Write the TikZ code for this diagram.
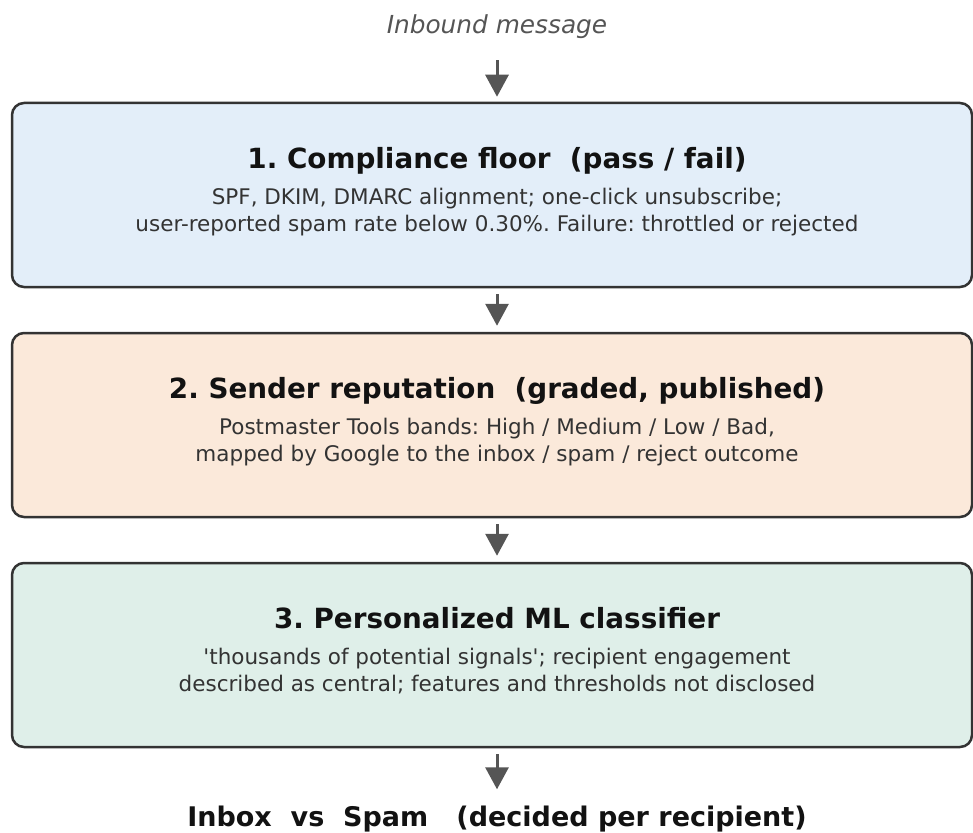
\documentclass[tikz,border=0pt]{standalone}
\usepackage{fontspec}
\setmainfont{DejaVu Sans}
\usetikzlibrary{arrows.meta}
\frenchspacing
\definecolor{edge}{HTML}{333333}
\definecolor{arrowgray}{HTML}{555555}
\definecolor{fillA}{HTML}{E3EEF9}
\definecolor{fillB}{HTML}{FBE9DA}
\definecolor{fillC}{HTML}{DFEFE9}
\definecolor{bodytext}{HTML}{333333}
\tikzset{
  x=1pt, y=-1pt,
  stage/.style={draw=edge, line width=2.5pt, rounded corners=12pt,
    minimum width=960pt, minimum height=184pt, inner sep=0pt},
  heading/.style={anchor=base, inner sep=0pt, text=black!93,
    font=\bfseries\fontsize{27.8}{33}\selectfont},
  % anchor=base of a two-line node sits on its last line
  detail/.style={anchor=base, inner sep=0pt, text=bodytext, align=center,
    font=\fontsize{21.5}{27}\selectfont},
  flow/.style={draw=arrowgray, line width=3pt,
    -{Triangle[width=23pt,length=22pt]}},
}
\begin{document}
\begin{tikzpicture}
\useasboundingbox (0,0) rectangle (973,832);

\node[inner sep=0pt, anchor=base, text=arrowgray,
  font=\itshape\fontsize{24.8}{30}\selectfont] (in) at (497,34) {Inbound message};

% three stages
\node[stage, fill=fillA] (b1) at (492,195) {};
\node[heading] (t1) at (497,168) {1. Compliance floor\ \ (pass / fail)};
\node[detail] (d1) at (497,231) {SPF, DKIM, DMARC alignment; one-click unsubscribe;\\
  user-reported spam rate below 0.30\%. Failure: throttled or rejected};

\node[stage, fill=fillB] (b2) at (492,425) {};
\node[heading] (t2) at (497,398) {2. Sender reputation\ \ (graded, published)};
\node[detail] (d2) at (497,461) {Postmaster Tools bands: High / Medium / Low / Bad,\\
  mapped by Google to the inbox / spam / reject outcome};

\node[stage, fill=fillC] (b3) at (492,655) {};
\node[heading] (t3) at (497,628) {3. Personalized ML classifier};
\node[detail] (d3) at (497,691) {\textquotesingle thousands of potential signals\textquotesingle; recipient engagement\\
  described as central; features and thresholds not disclosed};

\node[heading, font=\bfseries\fontsize{27}{32}\selectfont] (out) at (497,826)
  {Inbox\ \ vs\ \ Spam\ \ \ (decided per recipient)};

% connectors
\draw[flow, shorten <=21pt, shorten >=5pt] (in.south) -- (b1.north -| in.south);
\draw[flow, shorten <=6pt, shorten >=6pt] (b1.south -| in.south) -- (b2.north -| in.south);
\draw[flow, shorten <=6pt, shorten >=6pt] (b2.south -| in.south) -- (b3.north -| in.south);
\draw[flow, shorten <=6pt, shorten >=16pt] (b3.south -| in.south) -- (out.north);
\end{tikzpicture}
\end{document}
